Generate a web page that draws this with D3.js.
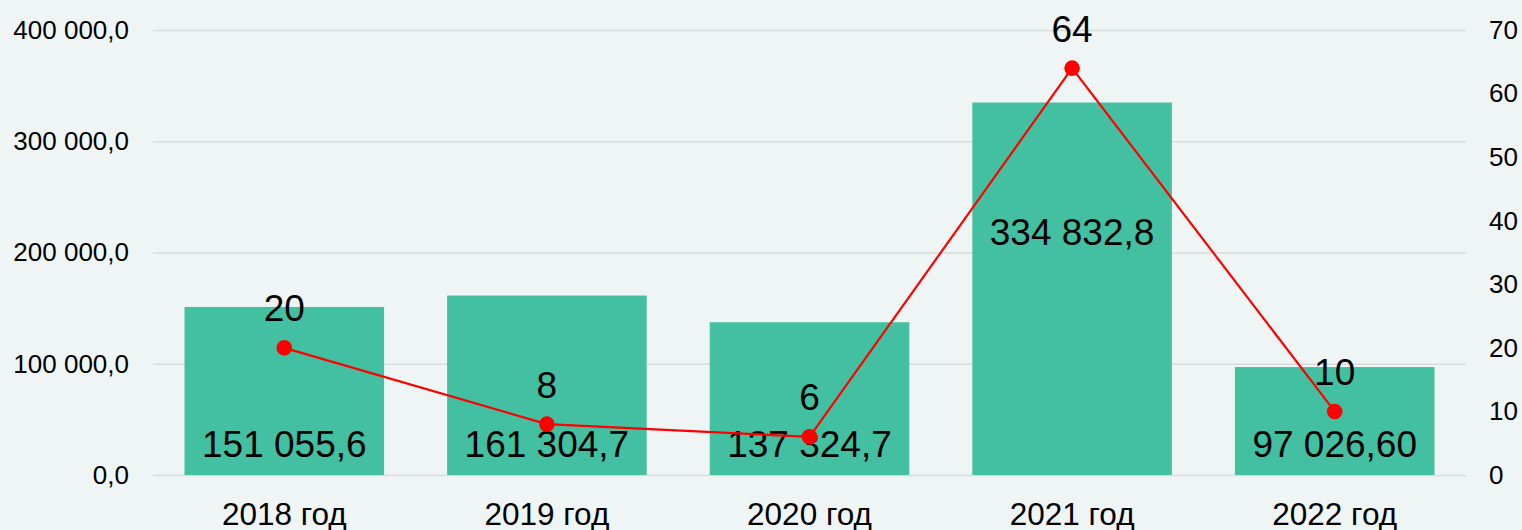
<!DOCTYPE html>
<html><head><meta charset="utf-8">
<script src="https://cdn.jsdelivr.net/npm/d3@7"></script>
<style>
html,body{margin:0;padding:0;background:#eff5f4;}
svg{display:block;font-family:"Liberation Sans",Arial,sans-serif;}
</style></head>
<body>
<svg id="chart" width="1522" height="530"></svg>
<script>
const categories = ["2018 год","2019 год","2020 год","2021 год","2022 год"];
const barValues = [151055.6, 161304.7, 137324.7, 334832.8, 97026.60];
const barLabels = ["151 055,6","161 304,7","137 324,7","334 832,8","97 026,60"];
const lineValues = [20, 8, 6, 64, 10];
const leftTicks = [0, 100000, 200000, 300000, 400000];
const leftTickLabels = ["0,0","100 000,0","200 000,0","300 000,0","400 000,0"];
const rightTicks = [0,10,20,30,40,50,60,70];

const svg = d3.select("#chart");
const W = 1522, H = 530;
const m = {left:153, right:56, top:30, bottom:55};
const x = d3.scaleBand().domain(categories).range([m.left, W-m.right]).paddingInner(0.24).paddingOuter(0.12);
const yL = d3.scaleLinear().domain([0,400000]).range([H-m.bottom, m.top]);
const yR = d3.scaleLinear().domain([0,70]).range([H-m.bottom, m.top]);
const FF = "Liberation Sans, Arial, sans-serif";

svg.append("rect").attr("width",W).attr("height",H).attr("fill","#eff5f4");

// gridlines + left axis
const gl = d3.axisLeft(yL).tickValues(leftTicks).tickSize(-(W-m.right-m.left)).tickFormat((d,i)=>leftTickLabels[i]).tickPadding(24);
const gL = svg.append("g").attr("transform",`translate(${m.left},0)`).call(gl);
gL.select(".domain").remove();
gL.selectAll(".tick line").attr("stroke","#d9dcdc").attr("stroke-width",1.5);
gL.selectAll(".tick text").attr("font-size",26).attr("fill","#000").attr("font-family",FF);

const ar = d3.axisRight(yR).tickValues(rightTicks).tickSize(0).tickPadding(23);
const gR = svg.append("g").attr("transform",`translate(${W-m.right},0)`).call(ar);
gR.select(".domain").remove();
gR.selectAll(".tick text").attr("font-size",26).attr("fill","#000").attr("font-family",FF);

// bars
svg.append("g").selectAll("rect").data(barValues).join("rect")
  .attr("x",(d,i)=>x(categories[i]))
  .attr("width",x.bandwidth())
  .attr("y",d=>yL(d))
  .attr("height",d=>yL(0)-yL(d))
  .attr("fill","#43c0a1");

// bar labels
svg.append("g").selectAll("text").data(barValues).join("text")
  .attr("x",(d,i)=>x(categories[i])+x.bandwidth()/2)
  .attr("y",d=> d>300000 ? yL(d)+142.5 : yL(0)-18)
  .attr("text-anchor","middle")
  .attr("font-size",37).attr("fill","#000")
  .text((d,i)=>barLabels[i]);

// category axis labels
const ax = d3.axisBottom(x).tickSize(0);
const gX = svg.append("g").attr("transform",`translate(0,${H-m.bottom})`).call(ax);
gX.select(".domain").remove();
gX.selectAll(".tick text").attr("y",50).attr("dy",null).attr("font-size",31.5).attr("fill","#000").attr("font-family",FF);

// line
const line = d3.line().x((d,i)=>x(categories[i])+x.bandwidth()/2).y(d=>yR(d));
svg.append("path").datum(lineValues).attr("d",line).attr("fill","none").attr("stroke","#ff0000").attr("stroke-width",2.2);
svg.append("g").selectAll("circle").data(lineValues).join("circle")
  .attr("cx",(d,i)=>x(categories[i])+x.bandwidth()/2)
  .attr("cy",d=>yR(d)).attr("r",7.8).attr("fill","#ff0000");
svg.append("g").selectAll("text").data(lineValues).join("text")
  .attr("x",(d,i)=>x(categories[i])+x.bandwidth()/2)
  .attr("y",d=>yR(d)-26.5)
  .attr("text-anchor","middle").attr("font-size",37).attr("fill","#000")
  .text(d=>d);
</script>
</body></html>
